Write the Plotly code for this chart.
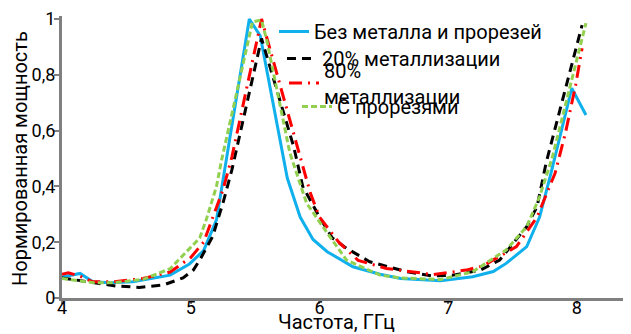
import plotly.graph_objects as go

# Data
blue_x = [4.0, 4.14, 4.24, 4.37, 4.55, 4.68, 4.84, 4.99, 5.1, 5.2, 5.25, 5.28, 5.455, 5.54, 5.75, 5.85, 5.95, 6.06, 6.26, 6.47, 6.63, 6.94, 7.19, 7.35, 7.45, 7.61, 7.71, 7.8, 7.96, 8.07]
blue_y = [0.075, 0.088, 0.058, 0.055, 0.058, 0.068, 0.082, 0.122, 0.17, 0.28, 0.42, 0.495, 1.0, 0.94, 0.43, 0.29, 0.21, 0.166, 0.112, 0.085, 0.07, 0.062, 0.076, 0.095, 0.124, 0.184, 0.29, 0.45, 0.752, 0.656]

black_x = [4.0, 4.24, 4.42, 4.6, 4.79, 4.94, 5.02, 5.07, 5.17, 5.25, 5.32, 5.55, 5.8, 5.87, 6.0, 6.1, 6.21, 6.39, 6.68, 6.88, 7.04, 7.25, 7.4, 7.61, 7.69, 7.76, 8.04]
black_y = [0.072, 0.055, 0.043, 0.038, 0.047, 0.072, 0.1, 0.136, 0.22, 0.34, 0.46, 0.93, 0.542, 0.4, 0.29, 0.215, 0.178, 0.13, 0.094, 0.079, 0.082, 0.1, 0.136, 0.256, 0.327, 0.483, 0.978]

red_x = [4.0, 4.05, 4.14, 4.24, 4.4, 4.63, 4.84, 5.0, 5.1, 5.25, 5.32, 5.55, 5.85, 5.93, 6.0, 6.15, 6.3, 6.52, 6.88, 7.14, 7.27, 7.53, 7.69, 7.83, 7.91, 7.99, 8.04]
red_y = [0.085, 0.09, 0.078, 0.058, 0.058, 0.07, 0.093, 0.145, 0.2, 0.387, 0.506, 1.0, 0.506, 0.375, 0.29, 0.2, 0.135, 0.106, 0.084, 0.1, 0.115, 0.184, 0.29, 0.447, 0.59, 0.763, 0.895]

green_x = [4.0, 4.24, 4.4, 4.63, 4.84, 4.99, 5.07, 5.12, 5.2, 5.24, 5.48, 5.55, 5.59, 5.77, 5.9, 6.06, 6.21, 6.47, 6.63, 6.94, 7.19, 7.45, 7.61, 7.71, 7.81, 8.07]
green_y = [0.07, 0.055, 0.055, 0.067, 0.105, 0.175, 0.215, 0.28, 0.4, 0.495, 0.99, 0.996, 0.925, 0.52, 0.34, 0.233, 0.136, 0.082, 0.072, 0.066, 0.094, 0.172, 0.256, 0.363, 0.506, 0.985]

names = ["Без металла и прорезей", "20% металлизации", "80%<br>металлизации", "С прорезями"]
x_ticks = [4, 5, 6, 7, 8]
y_ticks = [0, 0.2, 0.4, 0.6, 0.8, 1]

fig = go.Figure()
fig.add_trace(go.Scatter(x=blue_x, y=blue_y, mode="lines", name=names[0], legend="legend",
                         line=dict(color="#0FB0EC", width=3)))
fig.add_trace(go.Scatter(x=black_x, y=black_y, mode="lines", name=names[1], legend="legend2",
                         line=dict(color="#000000", width=3, dash="9px,6px")))
fig.add_trace(go.Scatter(x=red_x, y=red_y, mode="lines", name=names[2], legend="legend3",
                         line=dict(color="#FF0000", width=3, dash="13px,6px,2px,6px")))
fig.add_trace(go.Scatter(x=green_x, y=green_y, mode="lines", name=names[3], legend="legend4",
                         line=dict(color="#92D050", width=3, dash="6px,3px")))

def leg(x, y):
    return dict(x=x, y=y, xanchor="left", yanchor="middle", bgcolor="rgba(0,0,0,0)",
                font=dict(size=20, family="Roboto", color="black"), borderwidth=0)

# page body has an 8px margin, so the figure is sized to fit what remains
fig.update_layout(
    width=623, height=326,
    margin=dict(l=54, r=0, t=8, b=36),
    paper_bgcolor="white", plot_bgcolor="white",
    font=dict(family="Roboto", color="black"),
    separators=", ",
    showlegend=True,
    legend=leg(0.3726, 0.945),
    legend2=leg(0.3866, 0.849),
    legend3=leg(0.3902, 0.762),
    legend4=leg(0.4130, 0.679),
    xaxis=dict(range=[4, 8.42], tickvals=x_ticks, showgrid=False, zeroline=False,
               showline=True, linecolor="#808080", linewidth=3,
               ticks="outside", ticklen=3, tickcolor="#808080", tickwidth=2,
               tickfont=dict(size=18), ticklabelstandoff=-12, automargin=False),
    yaxis=dict(range=[0, 1.0107], tickvals=y_ticks, showgrid=False, zeroline=False,
               showline=True, linecolor="#808080", linewidth=3,
               ticks="outside", ticklen=5, tickcolor="#808080", tickwidth=2,
               tickfont=dict(size=18), ticklabelstandoff=-5, automargin=False),
    annotations=[
        dict(text="Нормированная мощность", textangle=-90, xref="paper", yref="paper",
             x=-0.074, y=0.496, xanchor="center", yanchor="middle", showarrow=False,
             font=dict(size=20, family="Roboto")),
        dict(text="Частота, ГГц", xref="paper", yref="paper",
             x=0.483, y=-0.035, xanchor="center", yanchor="top", showarrow=False,
             font=dict(size=20, family="Roboto")),
    ],
)

fig.write_html("out.html")
